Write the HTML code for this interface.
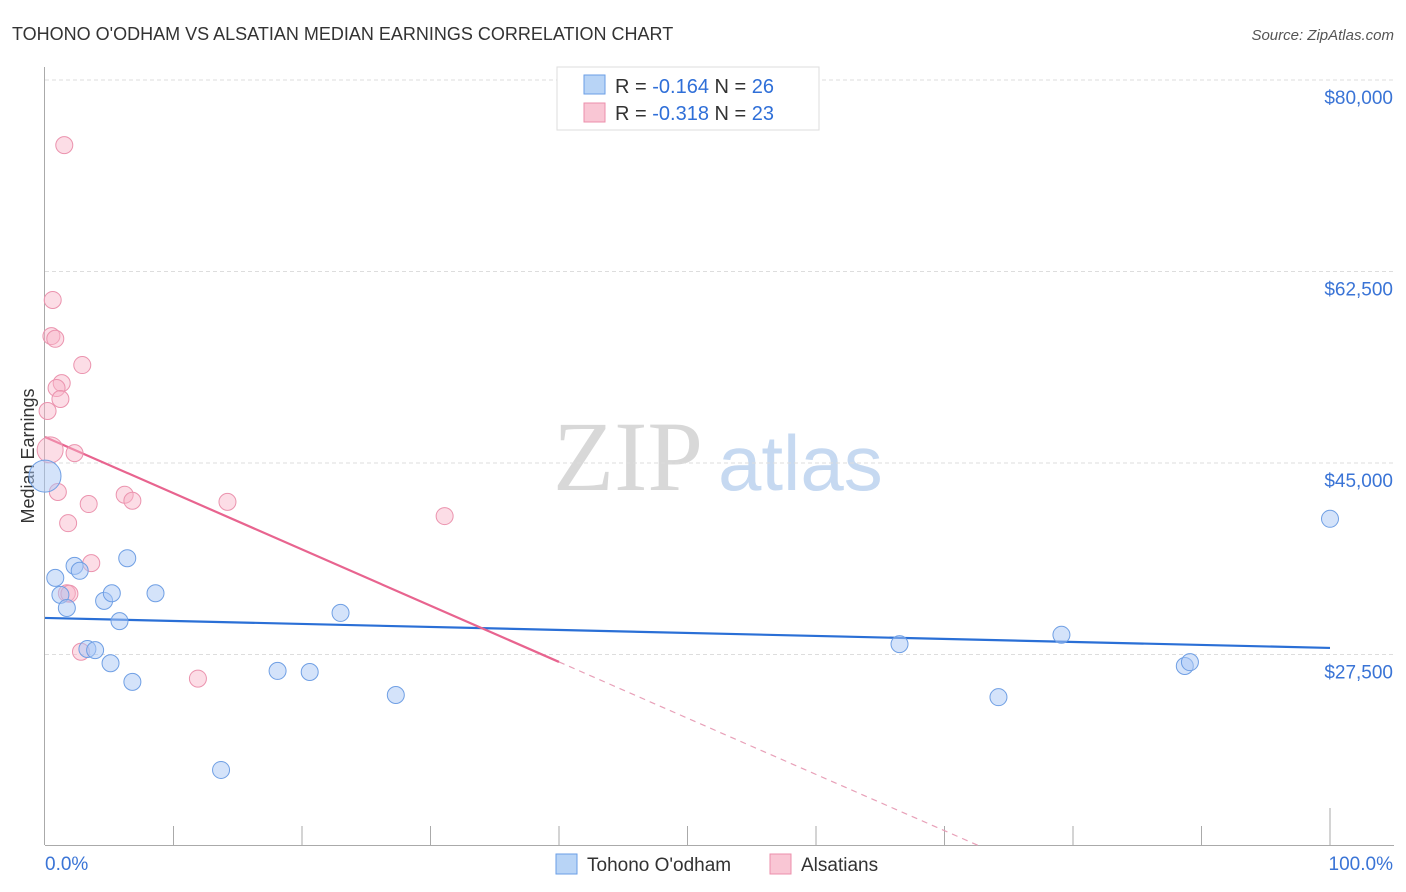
<!DOCTYPE html>
<html><head><meta charset="utf-8"><style>
body{margin:0;background:#fff;font-family:"Liberation Sans",sans-serif;}
svg{display:block}
</style></head><body>
<svg id="chart" width="1406" height="892" viewBox="0 0 1406 892">
<text x="12" y="40" font-size="18" fill="#333">TOHONO O'ODHAM VS ALSATIAN MEDIAN EARNINGS CORRELATION CHART</text>
<text x="1394" y="40" font-size="15" fill="#555" font-style="italic" text-anchor="end">Source: ZipAtlas.com</text>
<g>
<text x="553" y="490" font-family="Liberation Serif,serif" font-size="100" fill="#d8d8d8">ZIP</text>
<text x="718" y="490" font-size="78" fill="#c6d9f1">atlas</text>
</g>
<g id="grid"></g>
<g id="axes"></g>
<text transform="translate(34,456) rotate(-90)" font-size="18" fill="#333" text-anchor="middle">Median Earnings</text>
<g id="lines"></g>
<g id="pts"></g>
<g>
<rect x="557" y="67" width="262" height="63" fill="#fff" stroke="#ddd"/>
<rect x="584" y="75" width="21" height="19" fill="#b8d4f6" stroke="#6a9ee6"/>
<rect x="584" y="103" width="21" height="19" fill="#f9c6d4" stroke="#ec8fab"/>
<text x="615" y="93" font-size="20" fill="#333">R = <tspan fill="#2f6fd8">-0.164</tspan>   N = <tspan fill="#2f6fd8">26</tspan></text>
<text x="615" y="120" font-size="20" fill="#333">R = <tspan fill="#2f6fd8">-0.318</tspan>   N = <tspan fill="#2f6fd8">23</tspan></text>
</g>
<g>
<rect x="556" y="854" width="21" height="20" fill="#b8d4f6" stroke="#6a9ee6"/>
<text x="587" y="871" font-size="19" fill="#333">Tohono O'odham</text>
<rect x="770" y="854" width="21" height="20" fill="#f9c6d4" stroke="#ec8fab"/>
<text x="801" y="871" font-size="19" fill="#333">Alsatians</text>
</g>
</svg>
<script>
const yTicks=[80000,62500,45000,27500];
const yTickLabels=["$80,000","$62,500","$45,000","$27,500"];
const xTickLabels=["0.0%","100.0%"];
const blueX=[0,0.8,1.2,1.7,2.3,2.7,3.3,3.9,4.6,5.1,5.2,5.8,6.4,6.8,8.6,13.7,18.1,20.6,23.0,27.3,66.5,74.2,79.1,88.7,89.1,100];
const blueY=[43800,34500,32950,31750,35600,35150,28000,27900,32400,26700,33100,30550,36300,25000,33100,16950,26000,25900,31300,23800,28450,23600,29300,26450,26800,39900];
const pinkX=[1.5,0.6,0.5,0.8,2.9,1.3,0.9,1.2,0.2,0.4,2.3,1.0,3.4,6.2,6.8,14.2,1.8,31.1,3.6,1.7,1.9,2.8,11.9];
const pinkY=[74050,59900,56600,56350,53950,52300,51850,50850,49750,46200,45900,42350,41250,42100,41550,41450,39500,40150,35850,33100,33050,27750,25300];
const blueTrend=[30840,28100];
const pinkTrend=[47380,-514];
const NS="http://www.w3.org/2000/svg";
const X=p=>45+p*12.85;
const Y=v=>80+(80000-v)/17500*191.5;
function mk(parent,tag,attrs){const e=document.createElementNS(NS,tag);for(const k in attrs)e.setAttribute(k,attrs[k]);document.getElementById(parent).appendChild(e);return e;}
yTicks.forEach((v,i)=>{
 const l=mk('grid','line',{x1:45,x2:1394,y1:Y(v),y2:Y(v),stroke:'#ddd','stroke-dasharray':'4,3'});
 
 
 const t=mk('axes','text',{x:1393,y:Y(v)+24,'font-size':19,fill:'#3a74d6','text-anchor':'end'});
 t.textContent=yTickLabels[i];
 
 
});
const ya=mk('axes','line',{x1:44.5,x2:44.5,y1:67,y2:845,stroke:'#aaa'});


const xa=mk('axes','line',{x1:45,x2:1394,y1:845.5,y2:845.5,stroke:'#aaa'});


for(let i=1;i<=10;i++){
 const tk=mk('axes','line',{x1:X(i*10),x2:X(i*10),y1:i==10?808:826,y2:845,stroke:'#aaa'});
 
 
}
const xl0=mk('axes','text',{x:45,y:870,'font-size':19,fill:'#3a74d6'});
xl0.textContent=xTickLabels[0];


const xl1=mk('axes','text',{x:1393,y:870,'font-size':19,fill:'#3a74d6','text-anchor':'end'});
xl1.textContent=xTickLabels[1];


const bl=mk('lines','line',{x1:X(0),y1:Y(blueTrend[0]),x2:X(100),y2:Y(blueTrend[1]),stroke:'#2a6fd6','stroke-width':2.2});


const pv=x=>pinkTrend[0]+pinkTrend[1]*x;
const pl=mk('lines','line',{x1:X(0),y1:Y(pv(0)),x2:X(40),y2:Y(pv(40)),stroke:'#e8648f','stroke-width':2.2});


const xe=(10000-pinkTrend[0])/pinkTrend[1];
const pd=mk('lines','line',{x1:X(40),y1:Y(pv(40)),x2:X(xe),y2:Y(pv(xe)),stroke:'#e8a0b8','stroke-width':1.2,'stroke-dasharray':'6,5'});


pinkX.forEach((x,i)=>{
 const c=mk('pts','circle',{cx:X(x),cy:Y(pinkY[i]),r:i==9?13:8.5,fill:'rgba(248,180,200,0.45)',stroke:'#eb93ae','stroke-width':1});
 
 
});
blueX.forEach((x,i)=>{
 const c=mk('pts','circle',{cx:X(x),cy:Y(blueY[i]),r:i==0?16:8.5,fill:'rgba(170,200,245,0.5)',stroke:'#6f9fe4','stroke-width':1});
 
 
});
</script>
</body></html>
